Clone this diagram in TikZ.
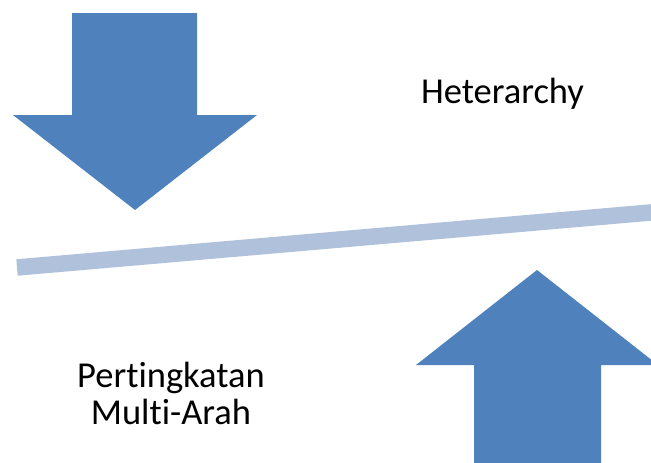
\documentclass[tikz,border=0pt]{standalone}
\usepackage{fontspec}
\setmainfont{Carlito}[Ligatures=NoCommon]
\definecolor{arrowblue}{HTML}{4F81BD}
\definecolor{barblue}{HTML}{B0C1DB}
\begin{document}
\begin{tikzpicture}[x=1pt,y=-1pt,
  bigarrow/.style={fill=arrowblue,draw=none},
  label/.style={font=\fontsize{36.5}{37}\selectfont,text=black,inner sep=0pt,align=center}]
\useasboundingbox (0,0) rectangle (651,463);
\begin{scope}
\clip (0,0) rectangle (651,463);
% down arrow
\fill[bigarrow] (72,13) -- (197,13) -- (197,115) -- (257,115) -- (135,210) -- (13,115) -- (72,115) -- cycle;
% up arrow
\fill[bigarrow] (537,270) -- (658,365) -- (601,365) -- (601,470) -- (474,470) -- (474,365) -- (416,365) -- cycle;
% balance bar
\coordinate (barL) at (17,267.5);
\coordinate (barR) at (700,208.2);
\draw[barblue,line width=16.5pt,line cap=butt] (barL) -- (barR);
\end{scope}
\node[label,anchor=base] (het) at (502.5,103) {Heterarchy};
\node[label,anchor=base] (pert) at (171,424) {Pertingkatan\\Multi-Arah};
\end{tikzpicture}
\end{document}
